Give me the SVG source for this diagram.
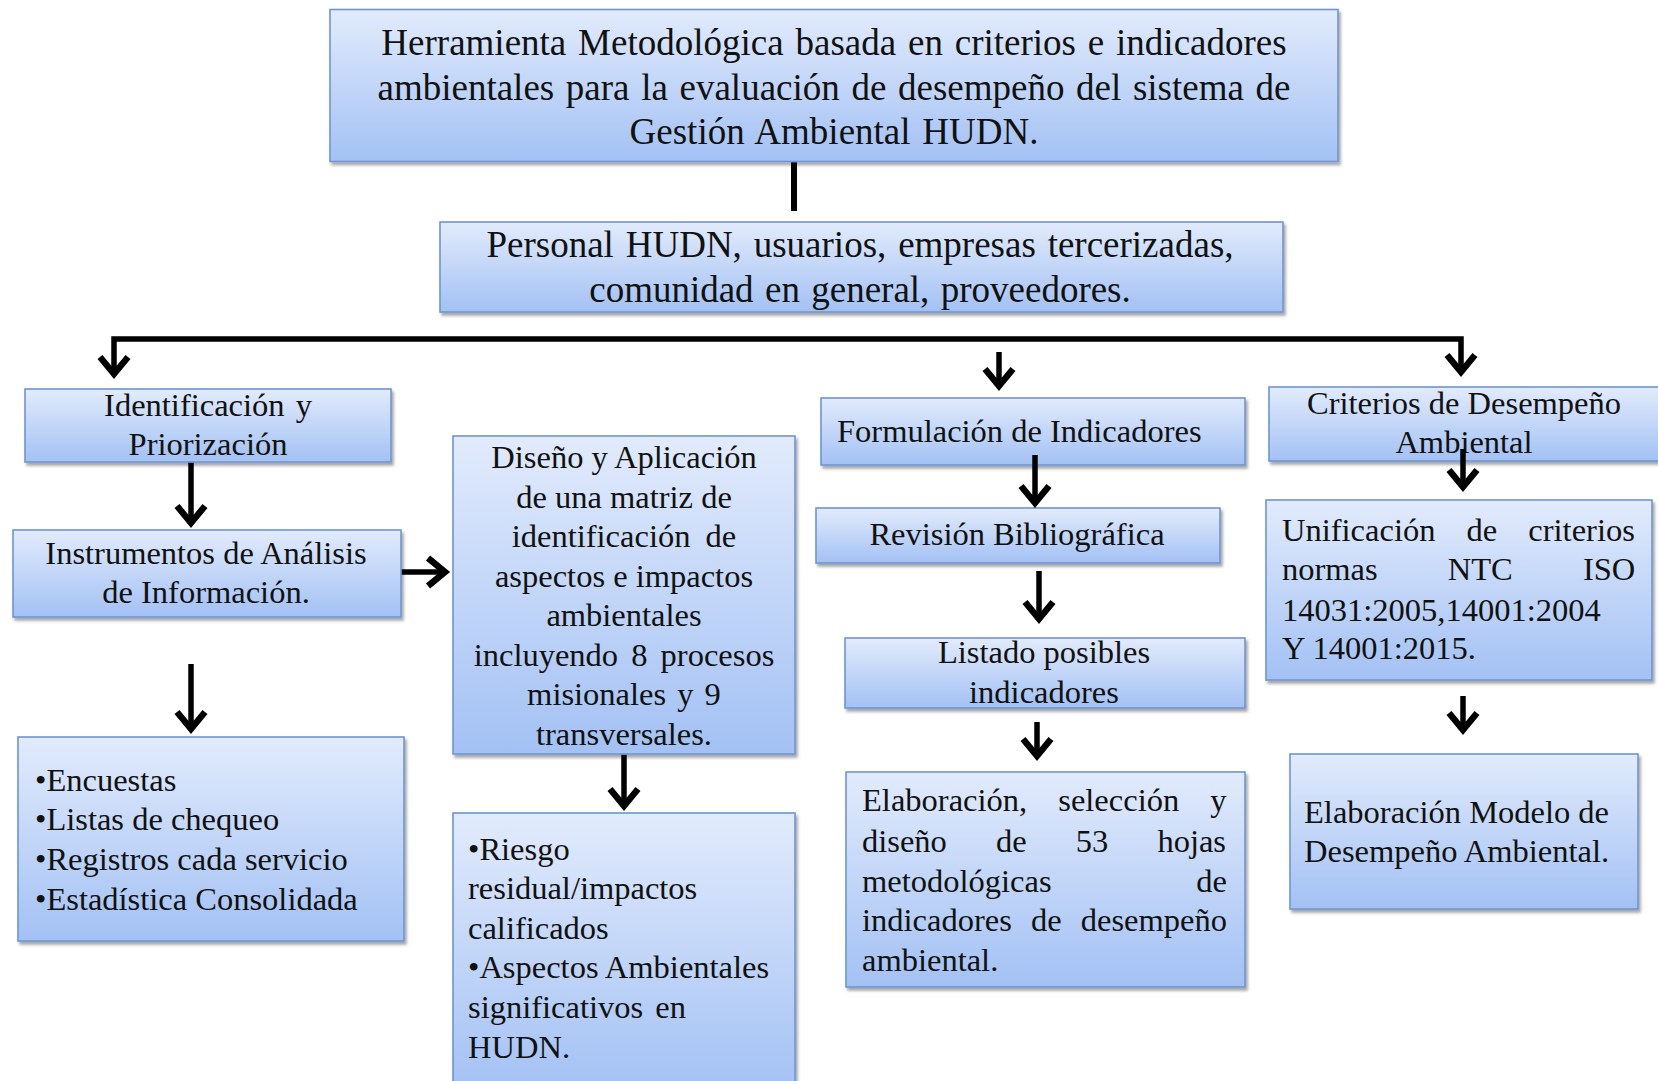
<svg xmlns="http://www.w3.org/2000/svg" width="1658" height="1081" viewBox="0 0 1658 1081">
<defs>
<linearGradient id="g" x1="0" y1="0" x2="0" y2="1">
<stop offset="0" stop-color="#e2ebfc"/>
<stop offset="1" stop-color="#a3c1f4"/>
</linearGradient>
<filter id="sh" x="-5%" y="-5%" width="115%" height="125%">
<feDropShadow dx="2" dy="3" stdDeviation="1.6" flood-color="#000" flood-opacity="0.35"/>
</filter>
<marker id="ah" markerUnits="userSpaceOnUse" orient="auto-start-reverse" refX="0" refY="0" markerWidth="60" markerHeight="60" viewBox="-30 -30 60 60" overflow="visible">
<path d="M -17 -14 L 0 0 L -17 14" fill="none" stroke="#000" stroke-width="6.5" stroke-linejoin="miter" stroke-miterlimit="10"/>
</marker>
<style>
.box { fill: url(#g); stroke: #6f95d2; stroke-width: 1.6; filter: url(#sh); }
.t { font-family: "Liberation Serif", "Times New Roman", serif; font-size: 32.5px; fill: #111; }
.tl { font-size: 37px; }
.c { text-anchor: middle; }
.conn { stroke: #000; stroke-width: 5.5; fill: none; marker-end: url(#ah); }
</style>
</defs>

<g id="connectors">
<path d="M 794 162 V 211" stroke="#000" stroke-width="6" fill="none"/>
<path d="M 114 374 V 339 H 1461 V 372" class="conn" stroke-width="6.5" marker-start="url(#ah)"/>
<path d="M 999 352 V 386" class="conn"/>
<path d="M 191 462 V 523" class="conn"/>
<path d="M 396 572 H 445" class="conn"/>
<path d="M 191 664 V 729" class="conn"/>
<path d="M 624 754 V 806" class="conn"/>
<path d="M 1039 571 V 619" class="conn"/>
<path d="M 1037 722 V 756" class="conn"/>
<path d="M 1463 696 V 730" class="conn"/>
</g>

<g id="n-top">
<rect class="box" x="330" y="9.5" width="1008" height="152"/>
<text class="t tl c" x="834" y="55" word-spacing="2.6">Herramienta Metodológica basada en criterios e indicadores</text>
<text class="t tl c" x="834" y="99.5" word-spacing="2.4">ambientales para la evaluación de desempeño del sistema de</text>
<text class="t tl c" x="834" y="144" word-spacing="2.5">Gestión Ambiental HUDN.</text>
</g>

<g id="n-personal">
<rect class="box" x="440" y="222" width="843" height="90"/>
<text class="t tl c" x="860" y="257" word-spacing="2.6">Personal HUDN, usuarios, empresas tercerizadas,</text>
<text class="t tl c" x="860" y="302" word-spacing="2.1">comunidad en general, proveedores.</text>
</g>

<g id="n-identificacion">
<rect class="box" x="25" y="389" width="366" height="73"/>
<text class="t c" x="208" y="416" word-spacing="3">Identificación y</text>
<text class="t c" x="208" y="455">Priorización</text>
</g>

<g id="n-instrumentos">
<rect class="box" x="13" y="530" width="388" height="87"/>
<text class="t c" x="206" y="564">Instrumentos de Análisis</text>
<text class="t c" x="206" y="603">de Información.</text>
</g>

<g id="n-bullets">
<rect class="box" x="18" y="737" width="386" height="204"/>
<text class="t" x="35" y="791">•Encuestas</text>
<text class="t" x="35" y="830">•Listas de chequeo</text>
<text class="t" x="35" y="870">•Registros cada servicio</text>
<text class="t" x="35" y="910">•Estadística Consolidada</text>
</g>

<g id="n-diseno">
<rect class="box" x="453" y="436" width="342" height="318"/>
<text class="t c" x="624" y="468">Diseño y Aplicación</text>
<text class="t c" x="624" y="507.5">de una matriz de</text>
<text class="t c" x="624" y="547" word-spacing="7">identificación de</text>
<text class="t c" x="624" y="586.5">aspectos e impactos</text>
<text class="t c" x="624" y="626">ambientales</text>
<text class="t c" x="624" y="665.5" word-spacing="5">incluyendo 8 procesos</text>
<text class="t c" x="624" y="705" word-spacing="3">misionales y 9</text>
<text class="t c" x="624" y="744.5">transversales.</text>
</g>

<g id="n-riesgo">
<rect class="box" x="453" y="813" width="342" height="280"/>
<text class="t" x="468" y="860">•Riesgo</text>
<text class="t" x="468" y="899">residual/impactos</text>
<text class="t" x="468" y="939">calificados</text>
<text class="t" x="468" y="978">•Aspectos Ambientales</text>
<text class="t" x="468" y="1018" word-spacing="4">significativos en</text>
<text class="t" x="468" y="1058">HUDN.</text>
</g>

<g id="n-formulacion">
<rect class="box" x="821" y="398" width="424" height="67"/>
<text class="t" x="837" y="442">Formulación de Indicadores</text>
</g>

<g id="n-revision">
<rect class="box" x="816" y="508" width="404" height="55"/>
<text class="t c" x="1017" y="545">Revisión Bibliográfica</text>
</g>

<g id="n-listado">
<rect class="box" x="845" y="638" width="400" height="70"/>
<text class="t c" x="1044" y="663">Listado posibles</text>
<text class="t c" x="1044" y="702.5">indicadores</text>
</g>

<g id="n-elaboracion">
<rect class="box" x="846" y="772" width="399" height="215"/>
<text class="t" x="862" y="811" word-spacing="23">Elaboración, selección y</text>
<text class="t" x="862" y="852" word-spacing="41">diseño de 53 hojas</text>
<text class="t" x="862" y="892">metodológicas</text>
<text class="t" x="1227" y="892" text-anchor="end">de</text>
<text class="t" x="862" y="931" word-spacing="11">indicadores de desempeño</text>
<text class="t" x="862" y="971">ambiental.</text>
</g>

<g id="n-criterios">
<rect class="box" x="1269" y="387" width="396" height="74"/>
<text class="t c" x="1464" y="414">Criterios de Desempeño</text>
<text class="t c" x="1464" y="453">Ambiental</text>
</g>

<g id="n-unificacion">
<rect class="box" x="1266" y="500" width="386" height="180"/>
<text class="t" x="1282" y="541" word-spacing="23">Unificación de criterios</text>
<text class="t" x="1282" y="580" word-spacing="62">normas NTC ISO</text>
<text class="t" x="1282" y="621">14031:2005,14001:2004</text>
<text class="t" x="1282" y="659">Y 14001:2015.</text>
</g>

<g id="n-modelo">
<rect class="box" x="1290" y="754" width="348" height="155"/>
<text class="t" x="1304" y="823">Elaboración Modelo de</text>
<text class="t" x="1304" y="862">Desempeño Ambiental.</text>
</g>

<g id="connectors-over">
<path d="M 1035 455 V 503" class="conn"/>
<path d="M 1463 449 V 487" class="conn"/>
</g>
</svg>
